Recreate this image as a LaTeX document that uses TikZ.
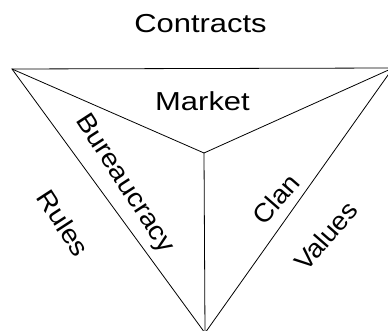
\documentclass[tikz,border=0pt]{standalone}
\usepackage{fontspec}
\setmainfont{Liberation Sans}
\begin{document}
\begin{tikzpicture}[x=1pt,y=-1pt,
  edge/.style={draw=black, line width=0.8pt},
  lbl/.style={font=\fontsize{26}{30}\selectfont, inner sep=0pt, transform shape}]
\useasboundingbox (0,0) rectangle (388,331);
\clip (0,0) rectangle (388,331);
% triangle corners and centre
\coordinate (tl) at (12,69);
\coordinate (tr) at (393,68);
\coordinate (bt) at (205,333);
\coordinate (ct) at (204,153);
\draw[edge] (tl) -- (tr) -- (bt) -- cycle;
\draw[edge] (ct) -- (tl);
\draw[edge] (ct) -- (tr);
\draw[edge] (ct) -- (bt);
% horizontal labels (wide lettering)
\begin{scope}[shift={(200.5,33)}]
  \node[lbl, anchor=base, xscale=1.19] (contracts) at (0,0) {Contracts};
\end{scope}
\begin{scope}[shift={(202.5,110.7)}]
  \node[lbl, anchor=base, xscale=1.19] (market) at (0,0) {Market};
\end{scope}
% slanted labels along the sides
\begin{scope}[shift={(124,184)}]
  \node[lbl, rotate=-57, xscale=1.1] (bureau) at (0,0) {Bureaucracy};
\end{scope}
\begin{scope}[shift={(63.5,223)}]
  \node[lbl, rotate=-57, xscale=1.1] (rules) at (0,0) {Rules};
\end{scope}
\begin{scope}[shift={(276,199)}]
  \node[lbl, rotate=49, xscale=1.05] (clan) at (0,0) {Clan};
\end{scope}
\begin{scope}[shift={(326,236)}]
  \node[lbl, rotate=49, xscale=1.05] (values) at (0,0) {Values};
\end{scope}
\end{tikzpicture}
\end{document}
